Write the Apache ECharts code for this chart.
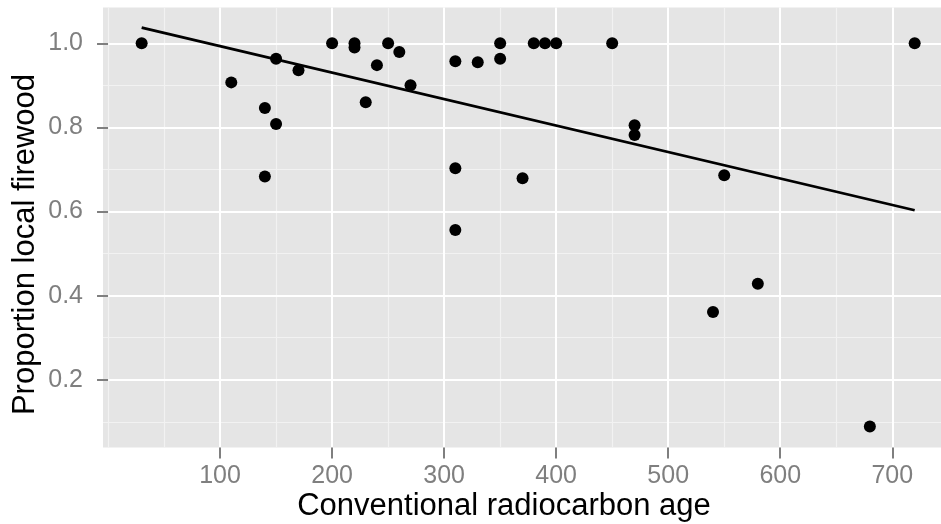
<!DOCTYPE html>
<html>
<head>
<meta charset="utf-8">
<script src="https://cdn.jsdelivr.net/npm/echarts@6/dist/echarts.min.js"></script>
<style>html,body{margin:0;padding:0;background:#fff;}#chart{width:941px;height:524px;}</style>
</head>
<body>
<div id="chart"></div>
<script>
// Data
const ageValues = [30, 110, 140, 150, 150, 140, 170, 200, 220, 220, 250, 260, 240, 230, 270, 310, 330, 350, 350, 380, 390, 400, 450, 470, 470, 310, 370, 310, 720, 550, 580, 540, 680];
const proportionValues = [1.0, 0.907, 0.846, 0.963, 0.808, 0.683, 0.936, 1.0, 1.0, 0.99, 1.0, 0.979, 0.948, 0.86, 0.9, 0.957, 0.955, 1.0, 0.963, 1.0, 1.0, 1.0, 1.0, 0.805, 0.782, 0.703, 0.679, 0.556, 1.0, 0.686, 0.428, 0.361, 0.089];
const fitLineX = [30, 720];
const fitLineY = [1.037, 0.603];
const xTickLabels = [100, 200, 300, 400, 500, 600, 700];
const xMinorTicks = [0, 50, 150, 250, 350, 450, 550, 650, 750];
const yTickLabels = [0.2, 0.4, 0.6, 0.8, 1.0];
const yMinorTicks = [0.1, 0.3, 0.5, 0.7, 0.9];
const xTitle = 'Conventional radiocarbon age';
const yTitle = 'Proportion local firewood';

const FONT = '"Liberation Sans", Arial, Helvetica, sans-serif';
const points = ageValues.map((x, i) => [x, proportionValues[i]]);
const fitLine = fitLineX.map((x, i) => [x, fitLineY[i]]);

const X_MIN = -4.5, X_MAX = 743.5, Y_MIN = 0.039, Y_MAX = 1.085;

const chart = echarts.init(document.getElementById('chart'), null, {renderer: 'canvas'});
chart.setOption({
  animation: false,
  backgroundColor: '#ffffff',
  grid: {left: 103, right: 0, top: 7.5, bottom: 76.5, show: true, backgroundColor: '#E5E5E5', borderWidth: 0},
  xAxis: [
    {
      type: 'value', min: X_MIN, max: X_MAX, z: 2,
      axisLine: {show: false},
      axisTick: {show: true, customValues: xTickLabels, length: 11, lineStyle: {color: '#7f7f7f', width: 2}},
      axisLabel: {customValues: xTickLabels, fontSize: 25, color: '#7f7f7f', margin: 16, fontFamily: FONT},
      splitLine: {show: true, lineStyle: {color: '#ffffff', width: 2}}
    },
    {
      type: 'value', min: X_MIN, max: X_MAX, position: 'bottom', z: 1,
      axisLine: {show: false},
      axisTick: {show: false, customValues: xMinorTicks},
      axisLabel: {show: false},
      splitLine: {show: true, lineStyle: {color: '#F2F2F2', width: 1.1}}
    }
  ],
  yAxis: [
    {
      type: 'value', min: Y_MIN, max: Y_MAX, z: 2,
      axisLine: {show: false},
      axisTick: {show: true, customValues: yTickLabels, length: 11, lineStyle: {color: '#7f7f7f', width: 2}},
      axisLabel: {customValues: yTickLabels, fontSize: 25, color: '#7f7f7f', margin: 20, fontFamily: FONT,
        formatter: v => Number(v).toFixed(1)},
      splitLine: {show: true, lineStyle: {color: '#ffffff', width: 2}}
    },
    {
      type: 'value', min: Y_MIN, max: Y_MAX, position: 'left', z: 1,
      axisLine: {show: false},
      axisTick: {show: false, customValues: yMinorTicks},
      axisLabel: {show: false},
      splitLine: {show: true, lineStyle: {color: '#F2F2F2', width: 1.1}}
    }
  ],
  series: [
    {
      type: 'line', xAxisIndex: 0, yAxisIndex: 0, data: fitLine, showSymbol: false, z: 3,
      lineStyle: {color: '#000', width: 2.8}, silent: true
    },
    {
      type: 'scatter', xAxisIndex: 0, yAxisIndex: 0, data: points, symbolSize: 12, z: 4,
      itemStyle: {color: '#000', opacity: 1}, silent: true
    }
  ],
  graphic: [
    {type: 'text', x: 504, y: 506, style: {text: xTitle, font: '31px ' + FONT, fill: '#000', textAlign: 'center', textVerticalAlign: 'middle'}},
    {type: 'text', x: 25, y: 244.5, rotation: Math.PI / 2, style: {text: yTitle, font: '31px ' + FONT, fill: '#000', textAlign: 'center', textVerticalAlign: 'middle'}}
  ]
});
</script>
</body>
</html>
